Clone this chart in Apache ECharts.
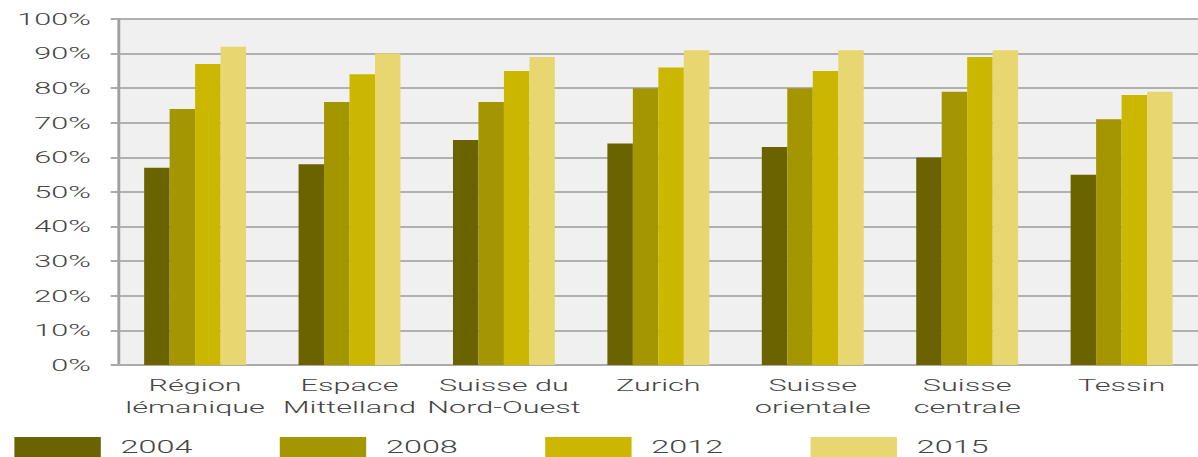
<!DOCTYPE html>
<html lang="fr">
<head>
  <meta charset="UTF-8">
  <title>Régions</title>
  <script src="https://cdn.jsdelivr.net/npm/echarts@6/dist/echarts.min.js"></script>
  <style>
    html, body { margin: 0; padding: 0; overflow: hidden; background: #fff; }
    /* the original picture is stretched sideways, so draw narrow and widen it */
    #chart {
      width: 666px;
      height: 457px;
      transform: scaleX(1.8);
      transform-origin: 0 0;
    }
  </style>
</head>
<body>
  <div id="chart"></div>
  <script>
    // regions
    var regions = ['Région\nlémanique', 'Espace\nMittelland', 'Suisse du\nNord-Ouest', 'Zurich',
      'Suisse\norientale', 'Suisse\ncentrale', 'Tessin'];
    // years
    var years = ['2004', '2008', '2012', '2015'];
    // values in %
    var v2004 = [57, 58, 65, 64, 63, 60, 55];
    var v2008 = [74, 76, 76, 80, 80, 79, 71];
    var v2012 = [87, 84, 85, 86, 85, 89, 78];
    var v2015 = [92, 90, 89, 91, 91, 91, 79];
    var colors = ['#6a6300', '#a39600', '#cbb600', '#e8d770'];

    var values = [v2004, v2008, v2012, v2015];
    var series = years.map(function (y, i) {
      return {
        name: y,
        type: 'bar',
        barGap: 0,
        barCategoryGap: '34%',
        itemStyle: { color: colors[i] },
        data: values[i]
      };
    });

    var chart = echarts.init(document.getElementById('chart'), null, { renderer: 'svg' });
    chart.setOption({
      animation: false,
      textStyle: { fontFamily: 'Roboto', fontWeight: 300 },
      grid: {
        left: 65.5,
        right: 0,
        top: 19,
        bottom: 92,
        show: true,
        backgroundColor: '#f0f0f0',
        borderWidth: 0
      },
      legend: {
        left: 8,
        top: 437,
        padding: 0,
        itemWidth: 48,
        itemHeight: 20,
        itemGap: 48.5,
        icon: 'rect',
        textStyle: { color: '#444', fontSize: 18, fontWeight: 300, padding: [0, 0, 0, 6] },
        data: years
      },
      xAxis: {
        type: 'category',
        data: regions,
        axisLine: { lineStyle: { color: '#aaa', width: 2 } },
        axisTick: { show: false },
        axisLabel: {
          interval: 0,
          color: '#444',
          fontSize: 17,
          fontWeight: 300,
          lineHeight: 22,
          margin: 9
        }
      },
      yAxis: {
        type: 'value',
        min: 0,
        max: 100,
        interval: 10,
        axisLine: { show: true, lineStyle: { color: '#a0a0a0', width: 1.6 } },
        axisTick: { show: true, length: 4, lineStyle: { color: '#aaa', width: 2 } },
        splitLine: { lineStyle: { color: '#b0b0b0', width: 2 } },
        axisLabel: {
          color: '#444',
          fontSize: 17,
          fontWeight: 300,
          margin: 15,
          formatter: '{value}%'
        }
      },
      series: series
    });
  </script>
</body>
</html>
